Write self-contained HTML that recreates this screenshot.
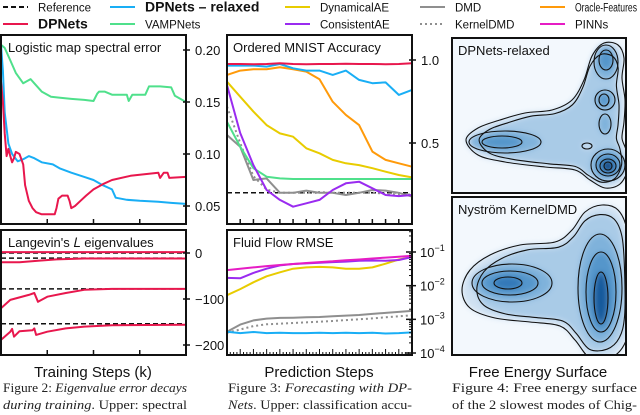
<!DOCTYPE html>
<html><head><meta charset="utf-8"><style>
html,body{margin:0;padding:0;background:#fff;}
svg{display:block;font-family:"Liberation Sans",sans-serif;}
</style></head><body>
<svg id="fig" width="640" height="415" viewBox="0 0 640 415" xmlns="http://www.w3.org/2000/svg">
<defs>
<filter id="blur" x="-10%" y="-10%" width="120%" height="120%"><feGaussianBlur stdDeviation="3"/></filter>
<clipPath id="clipE1"><rect x="453" y="39" width="172" height="153"/></clipPath>
<clipPath id="clipE2"><rect x="453" y="198" width="172" height="156"/></clipPath>
</defs>
</svg>
<script>
// ---------- DATA ----------
const logSteps_vamp=[0,2,5,8,12,16,18,22,27,32,38,45,50,52,53,56,60,68,69,71,78,80,86,92,94,100];
const logVals_vamp=[0.205,0.202,0.19,0.178,0.168,0.172,0.168,0.16,0.155,0.154,0.153,0.152,0.151,0.158,0.16,0.16,0.157,0.157,0.151,0.157,0.157,0.165,0.165,0.164,0.156,0.15];
const logSteps_relax=[0,1,2,4,6,9,12,15,18,22,28,32,38,45,50,55,60,62,68,75,85,92,100];
const logVals_relax=[0.205,0.18,0.14,0.11,0.1,0.093,0.095,0.098,0.096,0.092,0.09,0.086,0.082,0.078,0.075,0.07,0.066,0.058,0.056,0.055,0.054,0.053,0.052];
const logSteps_dp=[0,1,2,3,4,5,6,7,8,10,12,13,15,17,19,22,26,29,30,31,33,36,37,38,40,43,46,50,55,60,70,80,85,86,88,90,91,100];
const logVals_dp=[0.17,0.15,0.12,0.098,0.105,0.098,0.092,0.096,0.102,0.1,0.09,0.07,0.055,0.048,0.044,0.042,0.042,0.042,0.048,0.057,0.06,0.06,0.055,0.048,0.05,0.055,0.06,0.066,0.071,0.075,0.079,0.081,0.082,0.077,0.082,0.082,0.077,0.078];
const logTicks=[0.05,0.10,0.15,0.20];
const logTickLabels=["0.05","0.10","0.15","0.20"];

const lanRefs=[0,-11,-78,-154];
const lanSteps1=[0,100]; const lanVals1=[2,2];
const lanSteps2=[0,10,20,30,45,100]; const lanVals2=[-20,-20,-17,-14,-12,-12];
const lanSteps3=[0,5,15,18,20,25,35,45,60,100]; const lanVals3=[-120,-102,-91,-87,-106,-95,-87,-80,-78,-78];
const lanSteps4=[0,5,6,7,10,17,18,19,25,35,45,60,100]; const lanVals4=[-189,-171,-165,-182,-170,-168,-164,-178,-171,-164,-160,-157,-156];
const lanTicks=[0,-100,-200];
const lanTickLabels=["0","\u2212100","\u2212200"];
const trainTicks=[25,50,75];

const mnistSteps=[0,1,2,3,4,5,6,7,8,9,10,11,12,13,14];
const mnist_dp=[0.976,0.976,0.974,0.976,0.98,0.976,0.974,0.976,0.976,0.978,0.976,0.976,0.975,0.976,0.98];
const mnist_relax=[0.966,0.966,0.966,0.96,0.976,0.95,0.936,0.936,0.91,0.936,0.88,0.86,0.865,0.79,0.82];
const mnist_oracle=[0.91,0.936,0.944,0.944,0.956,0.944,0.93,0.884,0.749,0.669,0.608,0.448,0.398,0.378,0.357];
const mnist_dyn=[0.869,0.779,0.689,0.608,0.558,0.538,0.468,0.438,0.398,0.378,0.367,0.348,0.327,0.307,0.293];
const mnist_vamp=[0.628,0.478,0.348,0.297,0.287,0.283,0.283,0.283,0.283,0.283,0.283,0.283,0.283,0.283,0.283];
const mnist_dmd=[0.548,0.478,0.277,0.287,0.2,0.2,0.213,0.2,0.2,0.187,0.2,0.217,0.213,0.2,0.177];
const mnist_kdmd=[0.719,0.5,0.3,0.22,0.2,0.2,0.2,0.205,0.2,0.2,0.2,0.2,0.195,0.19,0.19];
const mnist_cons=[0.849,0.56,0.367,0.217,0.157,0.116,0.137,0.157,0.217,0.257,0.267,0.227,0.187,0.18,0.187];
const mnistRef=0.2;
const mnistTicks=[0.5,1.0];
const mnistTickLabels=["0.5","1.0"];

const fluidSteps=[0,1,2,3,4,5,6,7,8,9,10,11,12,13,14];
const fluid_pinn=[0.029,0.032,0.035,0.038,0.041,0.044,0.047,0.05,0.053,0.057,0.06,0.064,0.068,0.072,0.077];
const fluid_cons=[0.017,0.0166,0.024,0.032,0.04,0.044,0.046,0.048,0.05,0.052,0.055,0.056,0.055,0.058,0.071];
const fluid_dyn=[0.0052,0.0079,0.0126,0.019,0.025,0.032,0.035,0.036,0.035,0.032,0.032,0.035,0.045,0.06,0.071];
const fluid_dmd=[0.00043,0.0007,0.00093,0.00105,0.0011,0.00112,0.00115,0.00117,0.00123,0.00129,0.00135,0.00145,0.00155,0.00166,0.00178];
const fluid_kdmd=[0.0004,0.0005,0.00063,0.00071,0.00074,0.00078,0.00081,0.00085,0.00089,0.00095,0.001,0.00107,0.00115,0.00123,0.00132];
const fluid_relax=[0.00043,0.00039,0.00042,0.00039,0.0004,0.00039,0.00039,0.0004,0.00039,0.0004,0.00039,0.0004,0.00038,0.00039,0.00041];
const fluidDecades=[-1,-2,-3,-4];

// ---------- HELPERS ----------
const NS="http://www.w3.org/2000/svg";
const svg=document.getElementById('fig');
function mk(tag,attrs,parent){const e=document.createElementNS(NS,tag);for(const k in attrs)e.setAttribute(k,attrs[k]);(parent||svg).appendChild(e);return e;}
const C={red:"#e8174d",blue:"#19aef5",green:"#4fe08b",yellow:"#e8cc00",purple:"#9a2bf0",gray:"#8f8f8f",orange:"#ff9a0a",magenta:"#e61cc4"};
function series(xs,ys,fx,fy,color,name,dash,w){
  const d=xs.map((x,i)=>(i?"L":"M")+fx(x).toFixed(1)+","+fy(ys[i]).toFixed(1)).join("");
  const p=mk('path',{d:d,fill:"none",stroke:color,"stroke-width":w||2,"stroke-linejoin":"round","stroke-dasharray":dash||"none"});
  
  
  return p;
}
function txt(x,y,s,size,name,extra){
  const t=mk('text',Object.assign({x:x,y:y,"font-size":size,fill:"#111"},extra||{}));
  t.textContent=s;
  
  
  return t;
}
function frame(x,y,w,h,name){
  const r=mk('rect',{x:x,y:y,width:w,height:h,fill:"none",stroke:"#111","stroke-width":2});
  
  
}
function tick(x1,y1,x2,y2,w){const l=mk('line',{x1:x1,y1:y1,x2:x2,y2:y2,stroke:"#111","stroke-width":w||1.5});
  
  }

// ---------- LEGEND ----------
const legend=[
 ["Reference","#111",3,7,"5,3",false,"legend-reference"],
 ["DPNets \u2013 relaxed",C.blue,110,7,null,true,"legend-dpnets-relaxed"],
 ["DynamicalAE",C.yellow,285,7,null,false,"legend-dynamicalae"],
 ["DMD",C.gray,420,7,null,false,"legend-dmd"],
 ["Oracle-Features",C.orange,540,7,null,false,"legend-oracle-features"],
 ["DPNets",C.red,3,24,null,true,"legend-dpnets"],
 ["VAMPNets",C.green,110,24,null,false,"legend-vampnets"],
 ["ConsistentAE",C.purple,285,24,null,false,"legend-consistentae"],
 ["KernelDMD",C.gray,420,24,"2,3",false,"legend-kerneldmd"],
 ["PINNs",C.magenta,540,24,null,false,"legend-pinns"]];
legend.forEach(l=>{
  const g=mk('g',{});
  
  
  mk('line',{x1:l[2],y1:l[3],x2:l[2]+25,y2:l[3],stroke:l[1],"stroke-width":2,"stroke-dasharray":l[4]||"none"},g);
  const attrs={x:l[2]+35,y:l[3]+4.5,"font-size":l[5]?14:11.5,"font-weight":l[5]?"bold":"normal",fill:"#111"};
  if(l[0]==="Oracle-Features"){attrs.textLength=62;attrs.lengthAdjust="spacingAndGlyphs";}
  const t=mk('text',attrs,g);
  t.textContent=l[0];
});

// ---------- PANEL 1: logistic ----------
const fx1=s=>1+s*1.85;
const fy1=v=>206-(v-0.05)*1040;
series(logSteps_vamp,logVals_vamp,fx1,fy1,C.green,"vampnets-logistic-line");
series(logSteps_relax,logVals_relax,fx1,fy1,C.blue,"dpnets-relaxed-logistic-line");
series(logSteps_dp,logVals_dp,fx1,fy1,C.red,"dpnets-logistic-line");
frame(1,35,185,189,"logistic-panel-frame");
txt(8,52,"Logistic map spectral error",13,"logistic-panel-title");
logTicks.forEach((v,i)=>{tick(183,fy1(v),190,fy1(v));txt(195,fy1(v)+5,logTickLabels[i],13,"logistic-y-tick-label");});
trainTicks.forEach(s=>tick(fx1(s),224,fx1(s),219));

// ---------- PANEL 2: langevin ----------
const fy2=v=>253-v*0.46;
lanRefs.forEach(v=>series([0,100],[v,v],fx1,fy2,"#111","langevin-reference-line","5,3",1.5));
series(lanSteps1,lanVals1,fx1,fy2,C.red,"langevin-eig1-line");
series(lanSteps2,lanVals2,fx1,fy2,C.red,"langevin-eig2-line");
series(lanSteps3,lanVals3,fx1,fy2,C.red,"langevin-eig3-line");
series(lanSteps4,lanVals4,fx1,fy2,C.red,"langevin-eig4-line");
frame(1,230,185,125,"langevin-panel-frame");
txt(8,247,"Langevin's \uD835\uDC3F eigenvalues",13,"langevin-panel-title");
lanTicks.forEach((v,i)=>{tick(183,fy2(v),190,fy2(v));txt(195,fy2(v)+5,lanTickLabels[i],13,"langevin-y-tick-label");});
trainTicks.forEach(s=>tick(fx1(s),355,fx1(s),350));
txt(93,377,"Training Steps (k)",15,"x-axis-title-training",{"text-anchor":"middle"});

// ---------- PANEL 3: MNIST ----------
const fx3=i=>227+i*185/14;
const fy3=v=>226-166*v;
series([0,14],[mnistRef,mnistRef],fx3,fy3,"#111","mnist-reference-line","5,3",1.5);
series(mnistSteps,mnist_kdmd,fx3,fy3,C.gray,"kerneldmd-mnist-line","2,3");
series(mnistSteps,mnist_dmd,fx3,fy3,C.gray,"dmd-mnist-line");
series(mnistSteps,mnist_vamp,fx3,fy3,C.green,"vampnets-mnist-line");
series(mnistSteps,mnist_cons,fx3,fy3,C.purple,"consistentae-mnist-line");
series(mnistSteps,mnist_dyn,fx3,fy3,C.yellow,"dynamicalae-mnist-line");
series(mnistSteps,mnist_oracle,fx3,fy3,C.orange,"oracle-mnist-line");
series(mnistSteps,mnist_relax,fx3,fy3,C.blue,"dpnets-relaxed-mnist-line");
series(mnistSteps,mnist_dp,fx3,fy3,C.red,"dpnets-mnist-line");
frame(227,35,185,189,"mnist-panel-frame");
txt(233,52,"Ordered MNIST Accuracy",13,"mnist-panel-title");
mnistTicks.forEach((v,i)=>{tick(409,fy3(v),416,fy3(v));txt(421,fy3(v)+5,mnistTickLabels[i],13,"mnist-y-tick-label");});
mnistSteps.forEach(i=>{if(i>0&&i<14)tick(fx3(i),224,fx3(i),219);});

// ---------- PANEL 4: Fluid ----------
const fy4=v=>252-(Math.log10(v)+1)*33.67;
series(fluidSteps,fluid_kdmd,fx3,fy4,C.gray,"kerneldmd-fluid-line","2,3");
series(fluidSteps,fluid_dmd,fx3,fy4,C.gray,"dmd-fluid-line");
series(fluidSteps,fluid_relax,fx3,fy4,C.blue,"dpnets-relaxed-fluid-line");
series(fluidSteps,fluid_dyn,fx3,fy4,C.yellow,"dynamicalae-fluid-line");
series(fluidSteps,fluid_cons,fx3,fy4,C.purple,"consistentae-fluid-line");
series(fluidSteps,fluid_pinn,fx3,fy4,C.magenta,"pinns-fluid-line");
frame(227,230,185,125,"fluid-panel-frame");
txt(233,247,"Fluid Flow RMSE",13,"fluid-panel-title");
fluidDecades.forEach(d=>{
  const y=fy4(Math.pow(10,d));
  tick(406,y,416,y);
  const t=txt(420,y+5,"10",13,"fluid-y-tick-label");
  const s=mk('tspan',{dy:-6,"font-size":9},t); s.textContent="\u2212"+(-d);
  for(let m=2;m<10;m++){const v=m*Math.pow(10,d);const yy=fy4(v);if(yy>231&&yy<354)tick(409,yy,413,yy,1);}
});
for(let k=1;k<56;k++){const x=227+k*185/56;tick(x,355,x,k%4===0?349:352,1);}
txt(319,377,"Prediction Steps",15,"x-axis-title-prediction",{"text-anchor":"middle"});

// ---------- ENERGY SURFACES ----------
function smooth(p){
  const n=p.length;let d="M"+p[0][0]+","+p[0][1];
  for(let i=0;i<n;i++){const p0=p[(i-1+n)%n],p1=p[i],p2=p[(i+1)%n],p3=p[(i+2)%n];
    d+="C"+(p1[0]+(p2[0]-p0[0])/6).toFixed(1)+","+(p1[1]+(p2[1]-p0[1])/6).toFixed(1)+" "+(p2[0]-(p3[0]-p1[0])/6).toFixed(1)+","+(p2[1]-(p3[1]-p1[1])/6).toFixed(1)+" "+p2[0]+","+p2[1];}
  return d+"Z";
}
function scalePts(p,cx,cy,s){return p.map(q=>[+(cx+(q[0]-cx)*s).toFixed(1),+(cy+(q[1]-cy)*s).toFixed(1)]);}
const shades=["#cfe1f2","#a9cbe7","#7fb2db","#5596cb","#3278b8","#165a9c","#08336b"];
function ell(g,cx,cy,rx,ry,lvl,blur){mk('ellipse',{cx:cx,cy:cy,rx:rx,ry:ry,fill:blur?shades[lvl]:"none",stroke:blur?"none":"#111","stroke-width":1.1},g);}
function surface(clip,bx,by,bw,bh,outer,cx,cy,ells,name,title){
  const bg=mk('rect',{x:bx,y:by,width:bw,height:bh,fill:"#f3f8fd"});
  
  const g=mk('g',{"clip-path":"url(#"+clip+")"});
  
  
  const fg=mk('g',{filter:"url(#blur)"},g);
  [1,0.88].forEach((s,i)=>mk('path',{d:smooth(scalePts(outer,cx,cy,s)),fill:shades[i]},fg));
  ells.forEach(e=>ell(fg,e[0],e[1],e[2],e[3],e[4],true));
  const lg=mk('g',{},g);
  [1,0.88].forEach(s=>mk('path',{d:smooth(scalePts(outer,cx,cy,s)),fill:"none",stroke:"#111","stroke-width":1.1},lg));
  ells.forEach(e=>ell(lg,e[0],e[1],e[2],e[3],e[4],false));
  frame(bx,by,bw,bh,name+'-frame');
  txt(bx+6,by+17,title,13,name+'-title');
}
const outer1=[[466,140],[478,128],[500,120],[525,113],[552,110],[572,100],[584,80],[592,56],[604,43],[618,45],[624,58],[622,78],[625,100],[624,122],[622,138],[626,150],[628,168],[620,184],[605,188],[590,180],[575,170],[545,167],[505,162],[478,155]];
surface("clipE1",452,38,174,155,outer1,575,140,[
 [505,142,36,11,2],[502,142,20,6,3],
 [606,62,12,17,2],[606,60,7,10,3],
 [605,100,10,10,2],[604,100,5,6,3],
 [605,124,6,10,2],
 [587,146,5,3,0],
 [608,165,17,16,2],[608,165,12,11,3],[608,166,8,7,4],[608,166,4,4,6]],"energy-dpnets-relaxed","DPNets-relaxed");
const outer2=[[462,290],[470,270],[490,255],[520,245],[555,242],[572,230],[585,212],[602,205],[618,210],[627,230],[630,270],[630,320],[624,345],[610,358],[590,358],[575,340],[560,326],[530,322],[495,318],[470,308]];
surface("clipE2",452,197,174,158,outer2,585,285,[
 [512,283,40,19,2],[510,283,28,12,3],[508,283,14,6,4],
 [600,288,22,54,2],[601,292,15,40,3],[601,298,7,26,5]],"energy-nystrom-kerneldmd","Nystr\u00f6m KernelDMD");
txt(538,377,"Free Energy Surface",15,"x-axis-title-energy",{"text-anchor":"middle"});

// ---------- CAPTIONS ----------
function cap(x,y,parts,name,len){
  const t=mk('text',{x:x,y:y,"font-size":12.5,"font-family":"Liberation Serif, serif",fill:"#222",textLength:len,lengthAdjust:"spacingAndGlyphs"});
  
  
  parts.forEach(p=>{const s=mk('tspan',p[1]?{"font-style":"italic"}:{},t);s.textContent=p[0];});
}
cap(3,392,[["Figure 2: ",0],["Eigenvalue error decays",1]],"caption-fig2-line1",184);
cap(3,409,[["during training",1],[". Upper: spectral",0]],"caption-fig2-line2",184);
cap(228,392,[["Figure 3: ",0],["Forecasting with DP-",1]],"caption-fig3-line1",184);
cap(228,409,[["Nets",1],[". Upper: classification accu-",0]],"caption-fig3-line2",184);
cap(452,392,[["Figure 4:   Free energy surface",0]],"caption-fig4-line1",185);
cap(452,409,[["of the 2 slowest modes of Chig-",0]],"caption-fig4-line2",185);
</script>
</body></html>
